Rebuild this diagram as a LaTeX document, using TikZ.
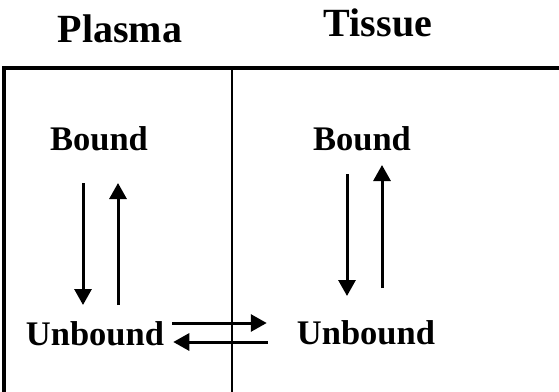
\documentclass[tikz,border=0pt]{standalone}
\usepackage{fontspec}
\setmainfont{Liberation Serif}
\usetikzlibrary{arrows.meta,calc}

\begin{document}
\begin{tikzpicture}[x=1pt, y=-1pt,
        head/.style={anchor=base, inner sep=0pt, font=\fontsize{40}{44}\selectfont\bfseries},
        state/.style={anchor=base, inner sep=0pt, font=\fontsize{34.5}{38}\selectfont\bfseries},
        frame/.style={line width=3.2pt},
        wall/.style={line width=1.6pt},
        arr/.style={-{Triangle[length=16pt,width=17pt]}, line width=3pt}
    ]
        \useasboundingbox (0,0) rectangle (559,391);
        \node[head] (plasma) at (120,42) {Plasma};
        \node[head] (tissue) at (378,36) {Tissue};
        \draw[frame] (4,395) |- (565,68);
        \draw[wall] (232,68) -- (232,395);
        \node[state] (pb) at (99,150)  {Bound};
        \node[state] (pu) at (95,345)  {Unbound};
        \node[state] (tb) at (362,150) {Bound};
        \node[state] (tu) at (366,344) {Unbound};
        \draw[arr] ($(pb.base)+(-16,33)$) -- ($(pu.base)+(-12,-40)$);
        \draw[arr] ($(pu.base)+(23,-40)$) -- ($(pb.base)+(19,33)$);
        \draw[arr] ($(tb.base)+(-15,24)$) -- ($(tu.base)+(-19,-48)$);
        \draw[arr] ($(tu.base)+(16,-56)$) -- ($(tb.base)+(20,15)$);
        \draw[arr] ($(pu.base east)+(8,-22)$) -- ($(tu.base west)+(-30,-21)$);
        \draw[arr] ($(tu.base west)+(-29,-2)$) -- ($(pu.base east)+(9,-3)$);
    \end{tikzpicture}
\end{document}
